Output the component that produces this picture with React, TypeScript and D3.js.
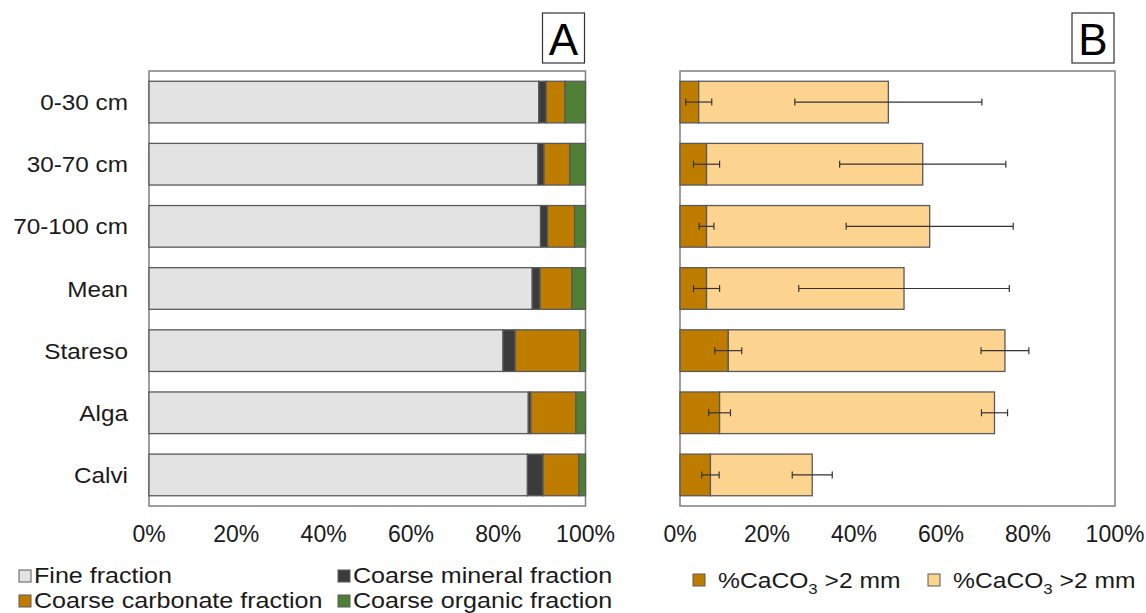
import React from 'react';
import * as d3 from 'd3';

// categories (top to bottom)
const sites = ['0-30 cm', '30-70 cm', '70-100 cm', 'Mean', 'Stareso', 'Alga', 'Calvi'];

// panel A: fraction composition, %
const fineFraction = [89.3, 89.1, 89.7, 87.8, 81.1, 86.9, 86.7];
const coarseMineral = [1.7, 1.4, 1.6, 1.8, 2.8, 0.6, 3.6];
const coarseCarbonate = [4.3, 5.9, 6.2, 7.3, 14.8, 10.3, 8.2];
const coarseOrganic = [4.7, 3.6, 2.5, 3.1, 1.3, 2.2, 1.5];

// panel B: %CaCO3 >2 mm, stacked, with standard deviations
const caco3Dark = [4.3, 6.1, 6.1, 6.1, 11.1, 9.1, 7.0];
const caco3DarkErr = [3.0, 3.0, 1.7, 3.0, 3.1, 2.5, 2.0];
const caco3Light = [43.6, 49.7, 51.3, 45.4, 63.6, 63.2, 23.4];
const caco3LightErr = [21.5, 19.1, 19.2, 24.2, 5.5, 3.0, 4.6];

const xTicks = [0, 20, 40, 60, 80, 100];
const legendA = ['Fine fraction', 'Coarse mineral fraction', 'Coarse carbonate fraction', 'Coarse organic fraction'];

const FONT = '"Liberation Sans", Arial, sans-serif';
const TXT = '#1a1a1a';
const EDGE = '#5a5a5a';

const colorsA = ['#e3e3e3', '#3b3b3b', '#bf7d00', '#4f7f35'];
const colorsB = ['#bf7d00', '#fdd48f'];

const top = 71;
const bottom = 506;

const y = d3.scaleBand<string>().domain(sites).range([top, bottom]).paddingInner(0.33).paddingOuter(0.165);

// text in the source is a bit wider than plain Arial
function T({ x, y, sx = 1, anchor = 'start', size, children }: any) {
  return (
    <text transform={`translate(${x},${y}) scale(${sx},1)`} textAnchor={anchor} fontSize={size} fill={TXT}>
      {children}
    </text>
  );
}

function Panel({ x0, x1, label, children }: { x0: number; x1: number; label: string; children: React.ReactNode }) {
  const x = d3.scaleLinear().domain([0, 100]).range([x0, x1]);
  return (
    <g>
      <rect x={x0} y={top} width={x1 - x0} height={bottom - top} fill="#fff" stroke="#7f7f7f" strokeWidth={1.5} />
      {children}
      {xTicks.map((t) => (
        <T key={t} x={x(t)} y={542} anchor="middle" size={23}>
          {t}%
        </T>
      ))}
      <rect x={x1 - 43} y={13} width={42} height={50} fill="#fff" stroke="#333" strokeWidth={1.2} />
      <text x={x1 - 22} y={55} textAnchor="middle" fontSize={44} fill="#000">
        {label}
      </text>
    </g>
  );
}

export default function App() {
  const xa = d3.scaleLinear().domain([0, 100]).range([149, 585.5]);
  const xb = d3.scaleLinear().domain([0, 100]).range([680, 1115]);
  const bh = y.bandwidth();

  const stackA = sites.map((_, i) => {
    const vals = [fineFraction[i], coarseMineral[i], coarseCarbonate[i], coarseOrganic[i]];
    let acc = 0;
    return vals.map((v) => {
      const s = acc;
      acc += v;
      return [s, Math.min(acc, 100)];
    });
  });

  const errBar = (cx: number, err: number, cy: number, key: string) => {
    const l = xb(cx - err);
    const r = xb(cx + err);
    return (
      <g key={key} stroke="#333" strokeWidth={1.2}>
        <line x1={l} x2={r} y1={cy} y2={cy} />
        <line x1={l} x2={l} y1={cy - 3.5} y2={cy + 3.5} />
        <line x1={r} x2={r} y1={cy - 3.5} y2={cy + 3.5} />
      </g>
    );
  };

  return (
    <svg width={1146} height={613} style={{ position: 'absolute', left: 0, top: 0, background: '#fff' }} fontFamily={FONT}>
      <Panel x0={149} x1={585.5} label="A">
        {sites.map((s, i) =>
          stackA[i].map(([a, b], k) => (
            <rect key={s + k} x={xa(a)} y={y(s)} width={xa(b) - xa(a)} height={bh} fill={colorsA[k]} stroke={EDGE} strokeWidth={1.3} />
          ))
        )}
        {sites.map((s) => (
          <T key={s} x={128} y={(y(s) as number) + bh / 2 + 8} anchor="end" size={22.5} sx={1.08}>
            {s}
          </T>
        ))}
      </Panel>

      <Panel x0={680} x1={1115} label="B">
        {sites.map((s, i) => {
          const d = caco3Dark[i];
          const tot = d + caco3Light[i];
          const cy = (y(s) as number) + bh / 2;
          return (
            <g key={s}>
              <rect x={xb(0)} y={y(s)} width={xb(d) - xb(0)} height={bh} fill={colorsB[0]} stroke={EDGE} strokeWidth={1.3} />
              <rect x={xb(d)} y={y(s)} width={xb(tot) - xb(d)} height={bh} fill={colorsB[1]} stroke={EDGE} strokeWidth={1.3} />
              {errBar(d, caco3DarkErr[i], cy, 'd')}
              {errBar(tot, caco3LightErr[i], cy, 'l')}
            </g>
          );
        })}
      </Panel>

      {/* legend A */}
      {legendA.map((t, k) => {
        const lx = k % 2 === 0 ? 19 : 338;
        const ly = k < 2 ? 570 : 595;
        return (
          <g key={t}>
            <rect x={lx} y={ly} width={12} height={12} fill={colorsA[k]} stroke={EDGE} strokeWidth={1} />
            <T x={lx + 15} y={ly + 13} size={22} sx={1.14}>
              {t}
            </T>
          </g>
        );
      })}

      {/* legend B */}
      {[693, 928].map((lx, k) => (
        <g key={k}>
          <rect x={lx} y={574} width={12} height={12} fill={colorsB[k]} stroke={EDGE} strokeWidth={1} />
          <T x={lx + 25} y={588} size={22} sx={1.12}>
            %CaCO
            <tspan fontSize={15} dy={6}>3</tspan>
            <tspan dy={-6}> &gt;2 mm</tspan>
          </T>
        </g>
      ))}
    </svg>
  );
}
